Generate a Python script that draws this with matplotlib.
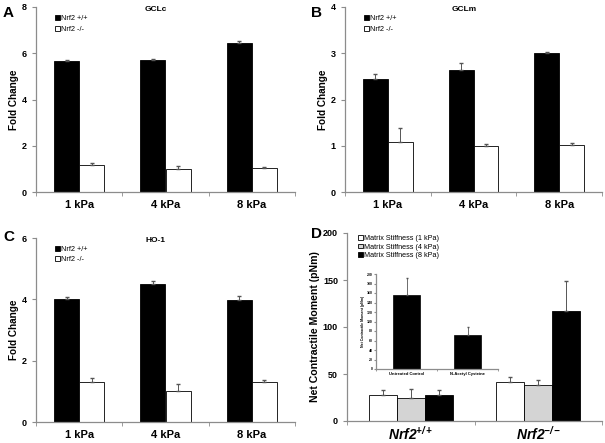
import matplotlib.pyplot as plt
import numpy as np

# panel data
kpa = ['1 kPa', '4 kPa', '8 kPa']

gclc_wt = [5.65, 5.71, 6.46]
gclc_wt_err = [0.05, 0.03, 0.07]
gclc_ko = [1.18, 1.01, 1.05]
gclc_ko_err = [0.06, 0.13, 0.01]

gclm_wt = [2.45, 2.64, 3.01]
gclm_wt_err = [0.10, 0.16, 0.01]
gclm_ko = [1.09, 1.00, 1.02]
gclm_ko_err = [0.29, 0.03, 0.03]

ho1_wt = [4.02, 4.50, 3.97]
ho1_wt_err = [0.04, 0.10, 0.14]
ho1_ko = [1.29, 1.01, 1.31]
ho1_ko_err = [0.13, 0.22, 0.06]

genotypes = [r'$\bfit{Nrf2}^{\bfit{+/+}}$', r'$\bfit{Nrf2}^{\bfit{-/-}}$']
ncm_1kpa = [27.5, 41.8]
ncm_1kpa_err = [6.0, 4.6]
ncm_4kpa = [24.8, 37.9]
ncm_4kpa_err = [9.0, 5.3]
ncm_8kpa = [28.0, 117.0]
ncm_8kpa_err = [5.0, 31.5]

inset_groups = ['Untreated Control', 'N-Acetyl Cysteine']
inset_vals = [156, 72]
inset_err = [35, 16]

spine_col = '#8c8c8c'
W, H = 605, 443

plt.rcParams['font.family'] = ['Liberation Sans', 'DejaVu Sans']
plt.rcParams['mathtext.fontset'] = 'custom'
plt.rcParams['mathtext.bfit'] = 'Liberation Sans:italic:bold'
plt.rcParams['mathtext.it'] = 'Liberation Sans:italic'
plt.rcParams['mathtext.bf'] = 'Liberation Sans:bold'
plt.rcParams['mathtext.rm'] = 'Liberation Sans'


def style_axes(ax, n):
    for s in ['top', 'right']:
        ax.spines[s].set_visible(False)
    for s in ['left', 'bottom']:
        ax.spines[s].set_color(spine_col)
        ax.spines[s].set_linewidth(0.9)
    ax.set_xlim(-0.5, n - 0.5)
    ax.set_xticks(np.arange(n))
    ax.set_xticks(np.arange(n + 1) - 0.5, minor=True)
    ax.tick_params(axis='x', which='major', length=0, pad=6)
    ax.tick_params(axis='x', which='minor', length=3, direction='out', color=spine_col)
    ax.tick_params(axis='y', length=3, direction='out', color=spine_col, labelsize=6.5)
    for lab in ax.get_yticklabels():
        lab.set_fontweight('bold')


def fold_panel(rect, wt, wt_err, ko, ko_err, ymax, title, lspace):
    ax = fig.add_axes(rect)
    x = np.arange(len(kpa))
    w = 0.29
    ek = dict(ecolor='#555555', elinewidth=0.7, capsize=1.5)
    ax.bar(x - w / 2, wt, w, color='black', edgecolor='black', linewidth=0.6,
           yerr=[np.zeros(3), wt_err], error_kw=ek, label='Nrf2 +/+')
    ax.bar(x + w / 2, ko, w, color='white', edgecolor='black', linewidth=0.6,
           yerr=[np.zeros(3), ko_err], error_kw=ek, label='Nrf2 -/-')
    ax.set_ylim(0, ymax)
    ax.set_yticks(np.arange(0, ymax + 1, 2 if ymax > 4 else 1))
    style_axes(ax, 3)
    ax.set_xticklabels(kpa, fontsize=8, fontweight='bold')
    ax.set_ylabel('Fold Change', fontsize=7.2, fontweight='bold', labelpad=2)
    ax.text(0.462, 0.985, title, transform=ax.transAxes, ha='center', va='center',
            fontsize=6, fontweight='bold')
    ax.legend(loc='upper left', bbox_to_anchor=(0.055, 0.985), frameon=False, fontsize=5.3,
              handlelength=0.6, handleheight=0.6, handletextpad=0.15, labelspacing=lspace,
              borderpad=0.2)
    return ax


fig = plt.figure(figsize=(6.05, 4.43), dpi=100)

fold_panel([36 / W, 1 - 192 / H, 259 / W, 185 / H], gclc_wt, gclc_wt_err, gclc_ko, gclc_ko_err, 8, 'GCLc', 0.6)
fold_panel([345 / W, 1 - 192 / H, 257 / W, 185 / H], gclm_wt, gclm_wt_err, gclm_ko, gclm_ko_err, 4, 'GCLm', 0.6)
fold_panel([36 / W, 1 - 422 / H, 259 / W, 184 / H], ho1_wt, ho1_wt_err, ho1_ko, ho1_ko_err, 6, 'HO-1', 0.4)

# panel D
axd = fig.add_axes([347 / W, 1 - 421 / H, 255 / W, 188 / H])
x = np.arange(len(genotypes))
w = 0.22
ek = dict(ecolor='#555555', elinewidth=0.7, capsize=1.5)
axd.bar(x - w, ncm_1kpa, w, color='white', edgecolor='black', linewidth=0.6,
        yerr=[np.zeros(2), ncm_1kpa_err], error_kw=ek, label='Matrix Stiffness (1 kPa)')
axd.bar(x, ncm_4kpa, w, color='#d4d4d4', edgecolor='black', linewidth=0.6,
        yerr=[np.zeros(2), ncm_4kpa_err], error_kw=ek, label='Matrix Stiffness (4 kPa)')
axd.bar(x + w, ncm_8kpa, w, color='black', edgecolor='black', linewidth=0.6,
        yerr=[np.zeros(2), ncm_8kpa_err], error_kw=ek, label='Matrix Stiffness (8 kPa)')
axd.set_ylim(0, 200)
axd.set_yticks(np.arange(0, 201, 50))
style_axes(axd, 2)
axd.set_xticklabels(genotypes, fontsize=10)
axd.tick_params(axis='x', which='major', pad=3)
axd.set_ylabel('Net Contractile Moment (pNm)', fontsize=7.6, fontweight='bold', labelpad=2)
axd.legend(loc='upper left', bbox_to_anchor=(0.025, 1.015), frameon=False, fontsize=5.2,
           handlelength=0.6, handleheight=0.6, handletextpad=0.15, labelspacing=0.18,
           borderpad=0.2)

# panel letters
for letter, (px, py) in zip('ABCD', [(3, 6), (311, 6), (3, 230), (311, 227)]):
    fig.text(px / W, 1 - py / H, letter, fontsize=11, fontweight='bold', va='top')

# inset
axi = fig.add_axes([376 / W, 1 - 369 / H, 122 / W, 95 / H])
xi = np.arange(len(inset_groups))
axi.bar(xi, inset_vals, 0.43, color='black', edgecolor='black', linewidth=0.5,
        yerr=[np.zeros(2), inset_err], error_kw=dict(ecolor='#555555', elinewidth=0.6, capsize=1))
axi.set_ylim(0, 200)
axi.set_yticks(np.arange(0, 201, 20))
style_axes(axi, 2)
axi.tick_params(axis='y', labelsize=2.5, length=1.5, pad=1)
axi.tick_params(axis='x', which='minor', length=1.5)
axi.tick_params(axis='x', which='major', pad=2)
axi.set_xticklabels(inset_groups, fontsize=3, fontweight='bold')
axi.set_ylabel('Net Contractile Moment (pNm)', fontsize=2.5, fontweight='bold', labelpad=1)

fig.savefig('out.png', dpi=100)
